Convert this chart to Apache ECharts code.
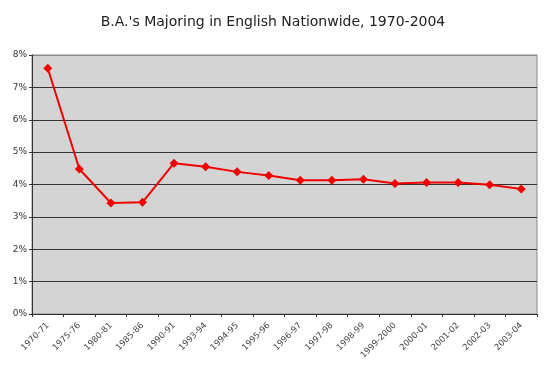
<!DOCTYPE html>
<html>
<head>
<meta charset="utf-8">
<script src="https://cdn.jsdelivr.net/npm/echarts@6/dist/echarts.min.js"></script>
<style>html,body{margin:0;padding:0;background:#fff;}#c{width:546px;height:374px;}</style>
</head>
<body>
<div id="c"></div>
<script>
var categories = ["1970-71","1975-76","1980-81","1985-86","1990-91","1993-94","1994-95","1995-96","1996-97","1997-98","1998-99","1999-2000","2000-01","2001-02","2002-03","2003-04"];
var percentValues = [7.59,4.48,3.43,3.45,4.66,4.55,4.39,4.28,4.13,4.13,4.16,4.03,4.06,4.06,3.99,3.86];
var yTicks = [0,1,2,3,4,5,6,7,8];
var titleText = "B.A.'s Majoring in English Nationwide, 1970-2004";

var gridColors = yTicks.map(function (t, i) { return i === yTicks.length - 1 ? '#8a8a8a' : '#333'; });

var chart = echarts.init(document.getElementById('c'));
chart.setOption({
  animation: false,
  backgroundColor: '#ffffff',
  title: {
    text: titleText,
    left: 'center',
    top: 10,
    textStyle: {fontFamily: 'DejaVu Sans', fontSize: 14, fontWeight: 'normal', color: '#222'}
  },
  grid: {left: 32, right: 9, top: 55, bottom: 60, show: true, backgroundColor: '#d4d4d4', borderColor: '#8a8a8a', borderWidth: 1},
  xAxis: {
    type: 'category',
    data: categories,
    boundaryGap: true,
    axisLine: {lineStyle: {color: '#333', width: 1}},
    axisTick: {show: true, length: 3, lineStyle: {color: '#333'}},
    axisLabel: {rotate: 45, fontFamily: 'DejaVu Sans', fontSize: 8.5, color: '#444', margin: 10, interval: 0}
  },
  yAxis: {
    type: 'value',
    min: yTicks[0],
    max: yTicks[yTicks.length - 1],
    interval: 1,
    axisLine: {show: true, lineStyle: {color: '#333', width: 1}},
    axisTick: {show: true, length: 3, lineStyle: {color: '#333'}},
    axisLabel: {formatter: '{value}%', fontFamily: 'DejaVu Sans', fontSize: 9, color: '#333', margin: 5},
    splitLine: {show: true, lineStyle: {color: gridColors, width: 1}}
  },
  series: [{
    type: 'line',
    data: percentValues,
    symbol: 'diamond',
    symbolSize: 9,
    itemStyle: {color: '#f00000'},
    lineStyle: {color: '#f00000', width: 2}
  }]
});
</script>
</body>
</html>
